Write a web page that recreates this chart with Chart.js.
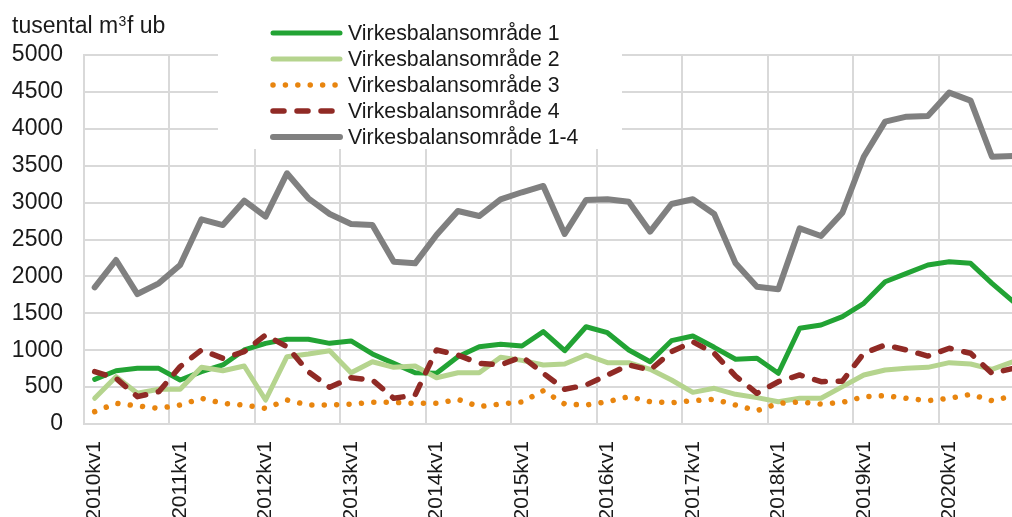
<!DOCTYPE html>
<html><head><meta charset="utf-8">
<script src="https://cdn.jsdelivr.net/npm/chart.js@4.4.1/dist/chart.umd.min.js"></script>
<style>html,body{margin:0;padding:0;overflow:hidden;background:#fff;width:1012px;height:517px}canvas{display:block}</style>
</head><body><canvas id="c" width="1024" height="540"></canvas>
<script>
const categories = [
  '2010kv1','2010kv2','2010kv3','2010kv4','2011kv1','2011kv2','2011kv3','2011kv4',
  '2012kv1','2012kv2','2012kv3','2012kv4','2013kv1','2013kv2','2013kv3','2013kv4',
  '2014kv1','2014kv2','2014kv3','2014kv4','2015kv1','2015kv2','2015kv3','2015kv4',
  '2016kv1','2016kv2','2016kv3','2016kv4','2017kv1','2017kv2','2017kv3','2017kv4',
  '2018kv1','2018kv2','2018kv3','2018kv4','2019kv1','2019kv2','2019kv3','2019kv4',
  '2020kv1','2020kv2','2020kv3','2020kv4'
];
const seriesNames = ['Virkesbalansområde 1','Virkesbalansområde 2','Virkesbalansområde 3','Virkesbalansområde 4','Virkesbalansområde 1-4'];
const vbo1 = [605,722,754,754,596,709,800,1003,1093,1148,1148,1093,1125,949,822,695,687,912,1048,1080,1057,1251,993,1318,1237,1003,844,1129,1192,1039,877,890,687,1297,1341,1454,1635,1928,2042,2154,2199,2177,1906,1657];
const vbo2 = [348,641,416,470,470,768,722,786,325,912,949,993,695,844,768,786,627,695,695,904,862,800,813,935,831,831,741,596,429,484,402,357,302,348,348,506,664,732,754,768,831,813,741,844];
const vbo3 = [167,280,244,212,257,348,280,257,212,325,257,257,270,294,294,280,280,334,235,270,298,451,271,257,302,370,302,289,316,334,257,181,280,298,271,293,370,384,348,316,348,402,316,380];
const vbo4 = [709,619,370,438,777,1003,890,980,1206,1048,709,497,627,596,348,393,1003,935,822,800,912,687,470,528,664,800,732,980,1115,958,650,416,573,664,573,580,958,1070,1003,921,1026,958,687,754];
const vboTotal = [1852,2222,1761,1906,2154,2773,2696,3026,2809,3397,3058,2845,2710,2696,2199,2177,2561,2886,2818,3045,3140,3225,2575,3035,3045,3012,2606,2981,3045,2845,2177,1860,1825,2651,2547,2863,3622,4097,4164,4173,4490,4381,3622,3631];
const yTicks = [0,500,1000,1500,2000,2500,3000,3500,4000,4500,5000];
const unitLabel = ['tusental m', '3', 'f ub'];

const styles = [
  {color:'#22a334', width:5, dash:[], cap:'round'},
  {color:'#b5d48e', width:5, dash:[], cap:'round'},
  {color:'#e8850f', width:5.5, dash:[0.01,12.4], cap:'round'},
  {color:'#902a25', width:5.5, dash:[11,13], cap:'round'},
  {color:'#808080', width:6, dash:[], cap:'round'}
];
const allSeries = [vbo1, vbo2, vbo3, vbo4, vboTotal];
const FONT = '"Liberation Sans", Arial, sans-serif';
const GRID = '#d9d9d9';

const datasets = allSeries.map((d,i)=>({
  label: seriesNames[i], data: d,
  borderColor: styles[i].color, backgroundColor: styles[i].color,
  borderWidth: styles[i].width, borderDash: styles[i].dash,
  borderCapStyle: styles[i].cap, borderJoinStyle:'round',
  pointRadius: 0, tension: 0, fill: false, order: 5 - i
}));

const overlay = {
  id:'overlay',
  afterDraw(chart){
    const ctx = chart.ctx;
    ctx.save();
    ctx.fillStyle = '#1a1a1a';
    ctx.textBaseline = 'alphabetic';
    ctx.font = '23px ' + FONT;
    let x = 12;
    ctx.fillText(unitLabel[0], x, 33); x += ctx.measureText(unitLabel[0]).width;
    ctx.font = '14px ' + FONT;
    ctx.fillText(unitLabel[1], x + 0.5, 26); x += ctx.measureText(unitLabel[1]).width + 1;
    ctx.font = '23px ' + FONT;
    ctx.fillText(unitLabel[2], x, 33);
    // legend box
    ctx.fillStyle = '#ffffff';
    ctx.fillRect(218, 0, 404, 149);
    ctx.font = '21.3px ' + FONT;
    ctx.textBaseline = 'middle';
    seriesNames.forEach((name,i)=>{
      const y = 33 + i*26;
      const s = styles[i];
      ctx.strokeStyle = s.color; ctx.lineWidth = s.width;
      ctx.setLineDash(s.dash); ctx.lineCap = s.cap;
      ctx.beginPath();
      ctx.moveTo(273, y); ctx.lineTo(340, y);
      ctx.stroke();
      ctx.setLineDash([]);
      ctx.fillStyle = '#1a1a1a';
      ctx.fillText(name, 348, y + 1);
    });
    ctx.restore();
  }
};

new Chart(document.getElementById('c'), {
  type:'line',
  data:{labels: categories, datasets},
  options:{
    responsive:false, animation:false, devicePixelRatio:1,
    layout:{padding:{top:55, left:0, right:0, bottom:0}},
    plugins:{legend:{display:false}, tooltip:{enabled:false}, title:{display:false}},
    scales:{
      x:{
        type:'category', offset:true,
        grid:{offset:true, drawTicks:false, lineWidth:2,
          color:(c)=> (c.index % 4 === 0) ? GRID : 'rgba(0,0,0,0)'},
        border:{color:GRID, width:2},
        ticks:{autoSkip:false, minRotation:90, maxRotation:90, padding:17,
          color:'#1a1a1a', font:{family:FONT, size:21},
          callback:(v,i)=> categories[i].endsWith('kv1') ? categories[i] : ''},
        afterFit:(s)=>{ s.height = 116; s.paddingLeft = 0; s.paddingRight = 0; }
      },
      y:{
        min:0, max:5000,
        afterBuildTicks:(s)=>{ s.ticks = yTicks.map(v=>({value:v})); },
        grid:{drawTicks:false, color:GRID, lineWidth:2},
        border:{color:GRID, width:2},
        ticks:{padding:21, color:'#1a1a1a', font:{family:FONT, size:23},
          callback:(v)=> String(v)},
        afterFit:(s)=>{ s.width = 84; s.paddingTop = 0; s.paddingBottom = 0; }
      }
    }
  },
  plugins:[overlay]
});
</script></body></html>
